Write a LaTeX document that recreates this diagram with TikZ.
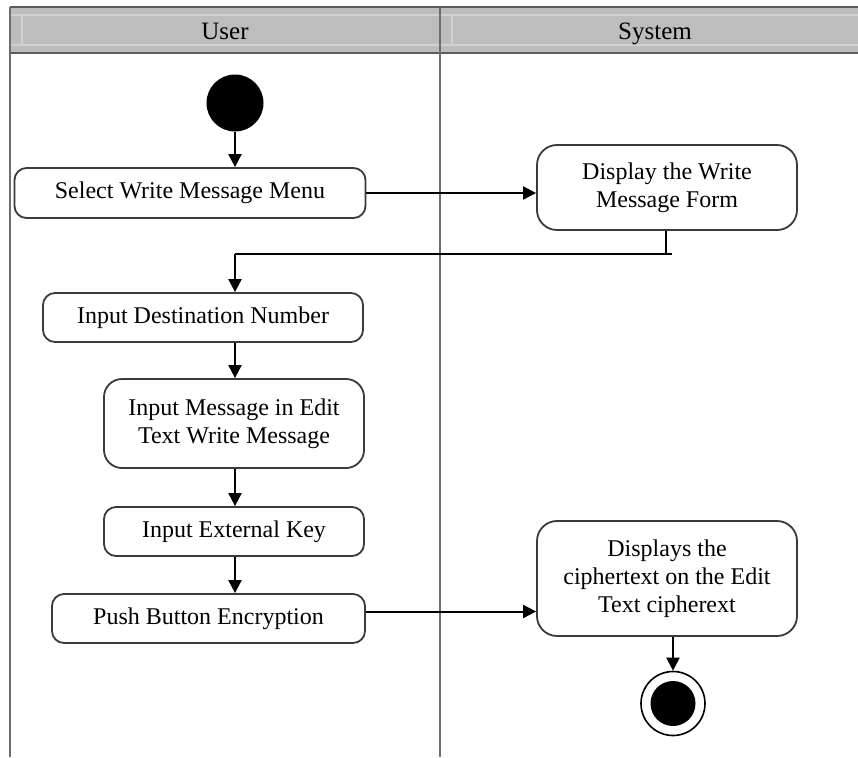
\documentclass[tikz,border=0pt]{standalone}
\usepackage{fontspec}
\setmainfont{Liberation Serif}
\usetikzlibrary{arrows.meta}

\definecolor{hdrfill}{HTML}{BDBDBD}
\definecolor{hdrlight}{HTML}{D2D2D2}
\definecolor{hdrline}{HTML}{5C5C5C}
\definecolor{laneline}{HTML}{6E6E6E}
\definecolor{boxline}{HTML}{3A3A3A}

\tikzset{
  act/.style={draw=boxline, line width=0.9pt, rounded corners=#1, fill=white,
    inner sep=0pt, align=center, font=\fontsize{12}{14}\selectfont},
  act/.default=6pt,
  flow/.style={draw=black, line width=1pt,
    -{Triangle[length=6.5pt,width=6.5pt]}},
  plain/.style={draw=black, line width=1pt},
  lane/.style={draw=laneline, line width=1pt},
  lanetitle/.style={font=\fontsize{12.5}{14}\selectfont, inner sep=0pt, anchor=base}
}

\begin{document}
\begin{tikzpicture}[x=0.5pt, y=-0.5pt]
  \useasboundingbox (0,0) rectangle (858,757);

  % swimlane header band
  \fill[hdrfill] (10,7) rectangle (858,53);
  \draw[hdrlight, line width=1pt] (10,15) -- (858,15) (10,45) -- (858,45)
        (22,15) -- (22,45) (452,15) -- (452,45);
  \draw[hdrline, line width=1.2pt] (10,7) -- (858,7) (10,53) -- (858,53);

  % lane borders
  \draw[lane] (10,7) -- (10,757);
  \draw[lane] (440,7) -- (440,757);

  \node[lanetitle] (userhdr) at (225,39) {User};
  \node[lanetitle] (syshdr) at (655,39) {System};

  % start / end
  \node[circle, fill=black, minimum size=28.5pt, inner sep=0pt] (start) at (235,103) {};
  \node[circle, draw=black, line width=0.8pt, fill=white, minimum size=32pt, inner sep=0pt] (fin) at (673,703.5) {};
  \fill[black] (fin.center) circle (11.25pt);

  % activities
  \node[act, minimum width=175.5pt, minimum height=25pt] (sel) at (190,193) {Select Write Message Menu};
  \node[act=10pt, minimum width=130pt, minimum height=42.5pt] (dw) at (667,187.5) {Display the Write\\Message Form};
  \node[act, minimum width=160pt, minimum height=24.5pt] (idn) at (203,317.5) {Input Destination Number};
  \node[act=9pt, minimum width=130pt, minimum height=44.5pt] (msg) at (234,423.5) {Input Message in Edit\\Text Write Message};
  \node[act, minimum width=130pt, minimum height=24.5pt] (key) at (234,531.5) {Input External Key};
  \node[act, minimum width=156.5pt, minimum height=24.5pt] (push) at (208.5,618.5) {Push Button Encryption};
  \node[act=10pt, minimum width=130pt, minimum height=57.5pt] (disp) at (667,578.5) {Displays the\\ciphertext on the Edit\\Text cipherext};

  % control flow
  \draw[flow] (start) -- (start |- sel.north);
  \draw[flow] (sel.east) -- (sel.east -| dw.west);

  \coordinate (join) at (666,254);
  \coordinate (joinend) at (672,254);
  \draw[plain] (dw.south -| join) -- (join);
  \draw[plain] (joinend) -- (join -| start);
  \draw[flow] (join -| start) -- (start |- idn.north);

  \draw[flow] (start |- idn.south) -- (start |- msg.north);
  \draw[flow] (start |- msg.south) -- (start |- key.north);
  \draw[flow] (start |- key.south) -- (start |- push.north);

  \draw[flow] (push.east) ++(0,-7) coordinate (pushout) -- (pushout -| disp.west);
  \draw[flow] (disp.south -| fin) -- (fin.north);
\end{tikzpicture}
\end{document}
